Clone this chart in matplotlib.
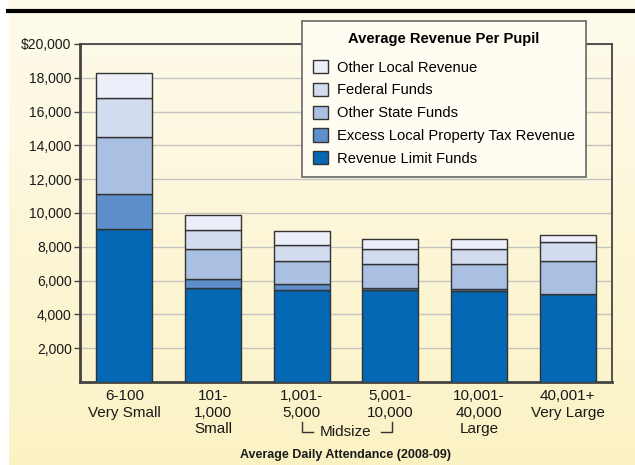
import numpy as np
import matplotlib
matplotlib.use("Agg")
import matplotlib.pyplot as plt
from matplotlib.patches import Patch
from matplotlib.lines import Line2D

plt.rcParams['font.family'] = ['Liberation Sans', 'DejaVu Sans']

categories = ["6-100\nVery Small", "101-\n1,000\nSmall", "1,001-\n5,000", "5,001-\n10,000",
              "10,001-\n40,000\nLarge", "40,001+\nVery Large"]
series_names = ["Revenue Limit Funds", "Excess Local Property Tax Revenue",
                "Other State Funds", "Federal Funds", "Other Local Revenue"]
revenue_limit = [9030, 5540, 5420, 5440, 5400, 5210]
excess_local = [2070, 540, 360, 140, 90, 0]
other_state = [3410, 1810, 1400, 1380, 1470, 1950]
federal = [2270, 1100, 920, 890, 890, 1140]
other_local = [1490, 890, 830, 630, 630, 400]
series_values = [revenue_limit, excess_local, other_state, federal, other_local]
colors = ["#0468B4", "#5D8FCC", "#AAC0E2", "#D3DCEF", "#ECEFF9"]
yticks = [2000, 4000, 6000, 8000, 10000, 12000, 14000, 16000, 18000, 20000]
ytick_labels = ["2,000", "4,000", "6,000", "8,000", "10,000", "12,000", "14,000",
                "16,000", "18,000", "$20,000"]
xlabel = "Average Daily Attendance (2008-09)"
legend_title = "Average Revenue Per Pupil"

fig = plt.figure(figsize=(6.35, 4.65), dpi=100)

# background gradient
bg = fig.add_axes([0, 0, 1, 1], zorder=-10)
grad = np.linspace(0, 1, 256).reshape(-1, 1)
top = np.array([254, 251, 236]) / 255
bot = np.array([251, 242, 196]) / 255
img = top[None, None, :] * (1 - grad[:, :, None]) + bot[None, None, :] * grad[:, :, None]
bg.imshow(img, aspect='auto', extent=[0, 1, 0, 1], origin='upper')
bg.axvspan(0, 8 / 635, color='white')
bg.axhspan(1 - 10 / 465, 1, xmin=8 / 635, color='#FDFAEC')
bg.set_xlim(0, 1)
bg.set_ylim(0, 1)
bg.axis('off')
fig.add_artist(Line2D([8 / 635, 1], [1 - 11 / 465, 1 - 11 / 465], color='black', lw=3,
                      transform=fig.transFigure))

ax = fig.add_axes([80 / 635, 83 / 465, 532 / 635, 338 / 465])
ax.set_facecolor('none')
x = np.arange(len(categories))
bottom = np.zeros(len(categories))
handles = []
for name, vals, col in zip(series_names, series_values, colors):
    ax.bar(x, vals, width=0.63, bottom=bottom, color=col, edgecolor='#333333',
           linewidth=1.0, zorder=3)
    bottom += np.array(vals)
    handles.append(Patch(facecolor=col, edgecolor='#333333', linewidth=1.0, label=name))

ax.set_xlim(-0.5, 5.5)
ax.set_ylim(0, 20000)
ax.set_yticks(yticks)
ax.set_yticklabels(ytick_labels, fontsize=10, color='#1a1a1a')
ax.set_xticks(x)
ax.set_xticklabels(categories, fontsize=11, color='#1a1a1a', linespacing=1.25)
ax.tick_params(axis='x', length=0, pad=5)
ax.tick_params(axis='y', length=4, width=1, color='#444444', pad=2)
ax.yaxis.grid(True, color='#C4C4C4', linewidth=1.0, zorder=0)
ax.set_axisbelow(True)
for side in ['left', 'bottom']:
    ax.spines[side].set_color('#444444')
    ax.spines[side].set_linewidth(2.0)
for side in ['top', 'right']:
    ax.spines[side].set_color('#444444')
    ax.spines[side].set_linewidth(1.3)
ax.set_xlabel(xlabel, fontsize=9, fontweight='bold', color='#1a1a1a', labelpad=9)

# Midsize bracket
tr = ax.get_xaxis_transform()
ax.text(2.5, -0.148, "Midsize", transform=tr, ha='center', va='center', fontsize=11,
        color='#1a1a1a', clip_on=False)
ybr_top = -0.118
ybr_bot = -0.148
ax.plot([2.0, 2.0, 2.13], [ybr_top, ybr_bot, ybr_bot], transform=tr, color='#333333',
        lw=1, clip_on=False)
ax.plot([2.9, 3.02, 3.02], [ybr_bot, ybr_bot, ybr_top], transform=tr, color='#333333',
        lw=1, clip_on=False)

leg = ax.legend(handles[::-1], series_names[::-1], title=legend_title,
                loc='upper left', bbox_to_anchor=(302 / 635, 1 - 21 / 465),
                bbox_transform=fig.transFigure, borderaxespad=0,
                fontsize=10.6, title_fontproperties={'weight': 'bold', 'size': 10.6},
                frameon=True, fancybox=False, edgecolor='#666666', facecolor='#FFFDF2',
                framealpha=1, handlelength=1.0, handleheight=1.0, labelspacing=0.555,
                borderpad=0.75, handletextpad=0.6)
leg._legend_box.sep = 10
leg.get_frame().set_linewidth(1.2)
leg.set_zorder(10)

fig.savefig('out.png', dpi=100)
